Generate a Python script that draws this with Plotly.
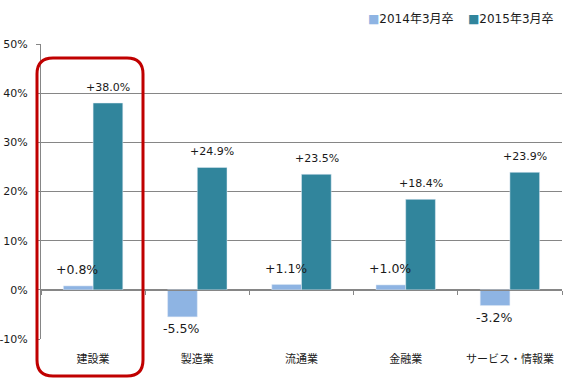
import plotly.graph_objects as go

categories = ["建設業", "製造業", "流通業", "金融業", "サービス・情報業"]
series_names = ["2014年3月卒", "2015年3月卒"]
values_2014 = [0.8, -5.5, 1.1, 1.0, -3.2]
values_2015 = [38.0, 24.9, 23.5, 18.4, 23.9]
y_tickvals = [-10, 0, 10, 20, 30, 40, 50]
y_ticktext = ["-10%", "0%", "10%", "20%", "30%", "40%", "50%"]

c14 = "#8EB4E3"
c15 = "#31859C"
grid = "#868686"
font_family = "DejaVu Sans, Noto Sans CJK JP, sans-serif"
txt = "#1a1a1a"

fig = go.Figure()
fig.add_bar(x=categories, y=values_2014, name=series_names[0], marker_color=c14,
            hoverinfo="skip")
fig.add_bar(x=categories, y=values_2015, name=series_names[1], marker_color=c15,
            hoverinfo="skip")
# dummy trace for the zero-crossing category axis
fig.add_scatter(x=categories, y=[None] * len(categories), xaxis="x2", yaxis="y",
                showlegend=False, hoverinfo="skip", mode="markers")

def fmt(v):
    return ("+" if v >= 0 else "-") + f"{abs(v):.1f}%"

for i, cat in enumerate(categories):
    for vals, shift, fs in ((values_2014, -16, 12.5), (values_2015, 15, 11)):
        v = vals[i]
        fig.add_annotation(x=cat, y=v, text=fmt(v), showarrow=False,
                           xshift=shift, yshift=16 if v >= 0 else -12,
                           font=dict(size=fs, color=txt, family=font_family))

W, H = 521, 295

# custom legend (compact squares like the original)
legend_items = [(series_names[0], c14, 366), (series_names[1], c15, 466)]
for name, col, px in legend_items:
    fig.add_annotation(x=(px - 41) / W, y=1 + (44 - 19) / H, xref="paper", yref="paper",
                       xanchor="left", yanchor="middle", showarrow=False,
                       text=f'<span style="color:{col}">■</span>{name}',
                       font=dict(size=12, color=txt, family=font_family))

# rounded red frame around the first category
x0, x1 = (37 - 41) / W, (143 - 41) / W
y0, y1 = 1 - (376 - 44) / H, 1 - (58 - 44) / H
rx, ry = 16 / W, 16 / H
path = (f"M {x0+rx},{y1} L {x1-rx},{y1} Q {x1},{y1} {x1},{y1-ry} "
        f"L {x1},{y0+ry} Q {x1},{y0} {x1-rx},{y0} L {x0+rx},{y0} "
        f"Q {x0},{y0} {x0},{y0+ry} L {x0},{y1-ry} Q {x0},{y1} {x0+rx},{y1} Z")
fig.add_shape(type="path", path=path, xref="paper", yref="paper",
              line=dict(color="#C00000", width=3), fillcolor="rgba(0,0,0,0)")

zero_pos = (339 - 290) / H

fig.update_layout(
    width=574, height=385,
    margin=dict(l=41, r=12, t=44, b=46, autoexpand=False),
    paper_bgcolor="white", plot_bgcolor="white",
    barmode="group", bargap=0.43, bargroupgap=0,
    font=dict(family=font_family, size=11, color=txt),
    showlegend=False,
    xaxis=dict(type="category", showgrid=False, showline=False, zeroline=False,
               ticks="outside", ticklen=10, tickcolor="rgba(0,0,0,0)", automargin=False,
               tickfont=dict(size=11, color=txt)),
    xaxis2=dict(type="category", matches="x", overlaying="x", anchor="free",
                position=zero_pos, showline=True, linecolor=grid, linewidth=1,
                ticks="outside", tickson="boundaries", ticklen=4, tickcolor=grid,
                showticklabels=False, showgrid=False, zeroline=False, automargin=False),
    yaxis=dict(range=[-10, 50], tickvals=y_tickvals, ticktext=y_ticktext,
               showgrid=True, gridcolor=grid, gridwidth=1,
               zeroline=True, zerolinecolor=grid, zerolinewidth=1,
               showline=True, linecolor=grid, linewidth=1,
               ticks="outside", ticklen=4, tickcolor=grid, automargin=False,
               ticklabelstandoff=6,
               tickfont=dict(size=11, color=txt)),
)

fig.write_html("out.html", config={"displayModeBar": False},
               post_script="document.body.style.margin='0';document.body.style.padding='0';")
